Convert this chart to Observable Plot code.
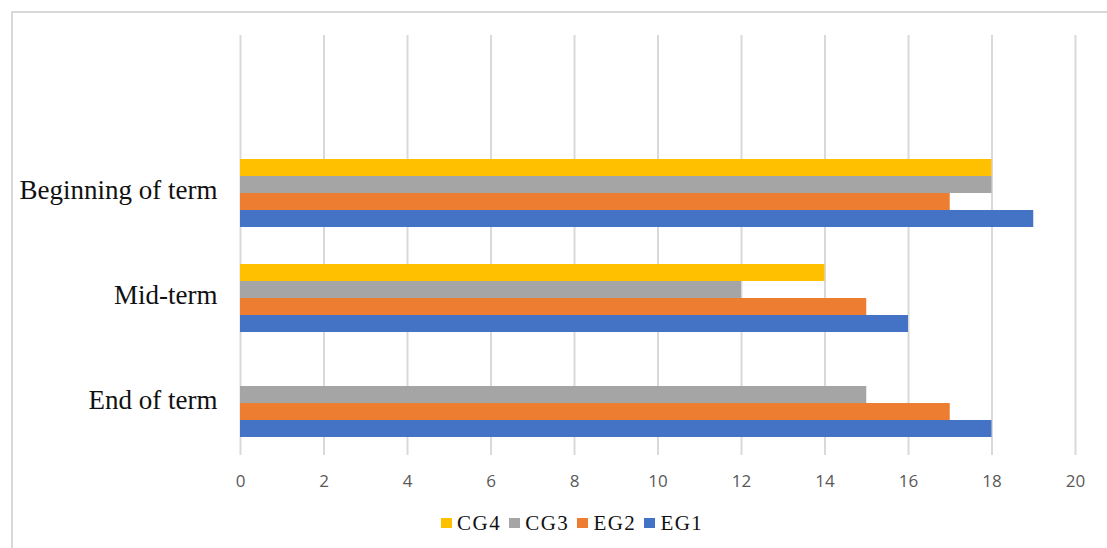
<!DOCTYPE html>
<html>
<head>
<meta charset="utf-8">
<script src="https://cdn.jsdelivr.net/npm/d3@7"></script>
<script src="https://cdn.jsdelivr.net/npm/@observablehq/plot@0.6"></script>
<style>
  html, body { margin: 0; padding: 0; background: #fff; }
  #wrap { position: relative; width: 1107px; height: 548px; overflow: hidden; }
  #frame { position: absolute; left: 11px; top: 11px; width: 1200px; height: 600px;
           border-top: 2px solid #d9d9d9; border-left: 2px solid #d9d9d9; }
  #chart { position: absolute; left: 0; top: 0; }
  #legend { position: absolute; left: 441px; top: 511px; display: flex; align-items: center;
            font-family: "Liberation Serif", "DejaVu Serif", serif; font-size: 21px; color: #111;
            letter-spacing: 1.5px; line-height: 24px; }
  .item { display: flex; align-items: center; margin-right: 8px; }
  .sw { width: 11px; height: 10px; margin-right: 5px; }
</style>
</head>
<body>
<div id="wrap">
  <div id="frame"></div>
  <div id="chart"></div>
  <div id="legend"></div>
</div>
<script>
// Data
const terms = ["Beginning of term", "Mid-term", "End of term"];
const series = ["CG4", "CG3", "EG2", "EG1"];
const CG4 = [18, 14, null];
const CG3 = [18, 12, 15];
const EG2 = [17, 15, 17];
const EG1 = [19, 16, 18];
const colors = ["#FFC000", "#A5A5A5", "#ED7D31", "#4472C4"];
const xTicks = [0, 2, 4, 6, 8, 10, 12, 14, 16, 18, 20];
const legendOrder = ["CG4", "CG3", "EG2", "EG1"];

const valuesBySeries = {CG4, CG3, EG2, EG1};
const rows = [];
terms.forEach((t, i) => series.forEach(s => {
  const v = valuesBySeries[s][i];
  if (v != null) rows.push({term: t, group: s, value: v});
}));

const fyDomain = [" ", ...terms]; // empty top band as in the original
const gridRows = [];
fyDomain.forEach(t => xTicks.forEach(x => gridRows.push({term: t, x})));

const chart = Plot.plot({
  width: 1107,
  height: 500,
  marginTop: 35,
  marginBottom: 45,
  marginLeft: 240,
  marginRight: 32,
  x: {domain: [0, 20], axis: null, label: null},
  y: {domain: series, paddingInner: 0, paddingOuter: 0.917, axis: null, label: null},
  fy: {domain: fyDomain, padding: 0, axis: null, label: null},
  color: {domain: series, range: colors},
  marks: [
    Plot.ruleX(gridRows, {fy: "term", x: "x", stroke: "#d9d9d9", strokeWidth: 2}),
    Plot.barX(rows, {fy: "term", y: "group", x: "value", fill: "group"}),
    Plot.axisX(xTicks, {anchor: "bottom", tickSize: 0, tickPadding: 19, fontSize: 17, label: null,
      fill: "#595959", fontFamily: "Open Sans, Liberation Sans, sans-serif", letterSpacing: 1.2}),
    Plot.axisFy({anchor: "left", tickSize: 0, tickPadding: 23, fontSize: 27, fill: "#111", label: null,
      fontFamily: "Liberation Serif, DejaVu Serif, serif", letterSpacing: 0.4, dy: -3,
      tickFormat: d => d.trim()})
  ]
});
document.getElementById("chart").appendChild(chart);

const legend = document.getElementById("legend");
legendOrder.forEach(s => {
  const it = document.createElement("div");
  it.className = "item";
  const sw = document.createElement("div");
  sw.className = "sw";
  sw.style.background = colors[series.indexOf(s)];
  const tx = document.createElement("span");
  tx.textContent = s;
  it.appendChild(sw); it.appendChild(tx);
  legend.appendChild(it);
});
</script>
</body>
</html>
